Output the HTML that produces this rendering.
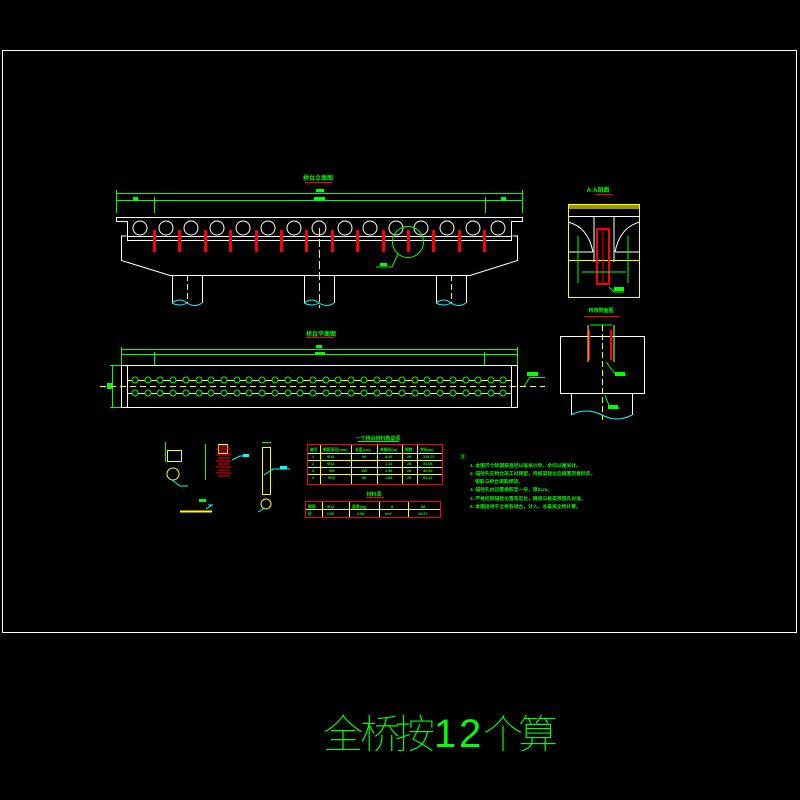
<!DOCTYPE html>
<html><head><meta charset="utf-8"><style>
html,body{margin:0;padding:0;background:#000;width:800px;height:800px;overflow:hidden}
svg{display:block}
text{font-family:"Liberation Sans","Noto Sans CJK SC",sans-serif}
</style></head><body>
<svg width="800" height="800" viewBox="0 0 800 800" xmlns="http://www.w3.org/2000/svg">
<rect x="0" y="0" width="800" height="800" fill="#000"/>
<rect x="2.5" y="50.5" width="794" height="582" fill="none" stroke="#fff" stroke-width="1"/>

<!-- ===== Elevation ===== -->
<text x="318" y="180" font-size="6" fill="#0f0" text-anchor="middle" font-weight="bold">桥台立面图</text>
<line x1="305" y1="182.5" x2="332" y2="182.5" stroke="#f00" stroke-width="1"/>
<g stroke="#0f0" stroke-width="1" fill="none">
<line x1="116" y1="193.5" x2="523" y2="193.5"/>
<line x1="116" y1="200.5" x2="523" y2="200.5"/>
<line x1="116.5" y1="190" x2="116.5" y2="213"/>
<line x1="522.5" y1="190" x2="522.5" y2="213"/>
<line x1="154.5" y1="197" x2="154.5" y2="213"/>
<line x1="485.5" y1="197" x2="485.5" y2="213"/>
</g>
<rect x="316" y="189" width="8" height="3" fill="#0f0"/>
<rect x="314" y="197" width="11" height="3" fill="#0f0"/>
<rect x="133" y="197" width="5" height="3" fill="#0f0"/>
<rect x="501" y="197" width="5" height="3" fill="#0f0"/>
<path d="M116.5,217.5 H522.5 V221.5 H511.5 V240.5 H127.5 V221.5 H116.5 Z" fill="none" stroke="#fff"/>
<g fill="none" stroke="#fff" stroke-width="1">
<circle cx="140" cy="228" r="7"/><circle cx="166" cy="228" r="7"/><circle cx="191" cy="228" r="7"/>
<circle cx="217" cy="228" r="7"/><circle cx="243" cy="228" r="7"/><circle cx="268" cy="228" r="7"/>
<circle cx="294" cy="228" r="7"/><circle cx="319" cy="228" r="7"/><circle cx="345" cy="228" r="7"/>
<circle cx="370" cy="228" r="7"/><circle cx="396" cy="228" r="7"/><circle cx="421" cy="228" r="7"/>
<circle cx="447" cy="228" r="7"/><circle cx="473" cy="228" r="7"/><circle cx="498" cy="228" r="7"/>
<line x1="127" y1="236.5" x2="511" y2="236.5"/>
<path d="M126.5,236 H121.5 V260.5 L170,275.5 H470 L517.5,260.5 V236 H512.5"/>
<path d="M172.5,275 V303 M202.5,275 V303 M304.5,275 V303 M334.5,275 V303 M436.5,275 V303 M466.5,275 V303"/>
</g>
<g fill="none" stroke="#0ff" stroke-width="1">
<path d="M172,303 q8,-6 15,0 q8,5 15,0 M172,303 q8,4 15,0"/>
<path d="M304,303 q8,-6 15,0 q8,5 15,0 M304,303 q8,4 15,0"/>
<path d="M436,303 q8,-6 15,0 q8,5 15,0 M436,303 q8,4 15,0"/>
</g>
<g fill="#f00">
<rect x="153" y="230" width="3" height="22"/><rect x="178" y="230" width="3" height="22"/>
<rect x="204" y="230" width="3" height="22"/><rect x="229" y="230" width="3" height="22"/>
<rect x="255" y="230" width="3" height="22"/><rect x="280" y="230" width="3" height="22"/>
<rect x="305" y="230" width="3" height="22"/><rect x="331" y="230" width="3" height="22"/>
<rect x="356" y="230" width="3" height="22"/><rect x="382" y="230" width="3" height="22"/>
<rect x="407" y="230" width="3" height="22"/><rect x="432" y="230" width="3" height="22"/>
<rect x="458" y="230" width="3" height="22"/><rect x="483" y="230" width="3" height="22"/>
</g>
<line x1="319.5" y1="228" x2="319.5" y2="308" stroke="#ff0" stroke-dasharray="8,3"/>
<line x1="187.5" y1="275" x2="187.5" y2="303" stroke="#ff0" stroke-dasharray="6,3"/>
<line x1="451.5" y1="275" x2="451.5" y2="303" stroke="#ff0" stroke-dasharray="6,3"/>
<circle cx="408" cy="242" r="15.5" fill="none" stroke="#0f0"/>
<path d="M398,254 L392,267 H376" fill="none" stroke="#0f0"/>
<rect x="380" y="263" width="7" height="3" fill="#0f0"/>

<!-- ===== Plan ===== -->
<text x="321" y="336" font-size="6" fill="#0f0" text-anchor="middle" font-weight="bold">桥台平面图</text>
<line x1="306" y1="337.5" x2="334" y2="337.5" stroke="#f00"/>
<g stroke="#0f0" fill="none">
<line x1="121" y1="349.5" x2="518" y2="349.5"/>
<line x1="121" y1="354.5" x2="518" y2="354.5"/>
<line x1="121.5" y1="347" x2="121.5" y2="365"/>
<line x1="517.5" y1="347" x2="517.5" y2="365"/>
<line x1="154.5" y1="352" x2="154.5" y2="365"/>
<line x1="484.5" y1="352" x2="484.5" y2="365"/>
<line x1="112.5" y1="365" x2="112.5" y2="407"/>
<line x1="110" y1="365.5" x2="121" y2="365.5"/>
<line x1="110" y1="407.5" x2="121" y2="407.5"/>
<line x1="524" y1="386.5" x2="530" y2="377"/>
<line x1="530" y1="377.5" x2="545" y2="377.5"/>
</g>
<rect x="316" y="345" width="6" height="3" fill="#0f0"/>
<rect x="315" y="352" width="10" height="3" fill="#0f0"/>
<rect x="107" y="383" width="5" height="6" fill="#0f0"/>
<rect x="527" y="372" width="11" height="4" fill="#0f0"/>
<rect x="121.5" y="365.5" width="396" height="42" fill="none" stroke="#fff"/>
<line x1="127.5" y1="365" x2="127.5" y2="407" stroke="#fff"/>
<line x1="511.5" y1="365" x2="511.5" y2="407" stroke="#fff"/>
<line x1="127" y1="380.5" x2="512" y2="380.5" stroke="#ff0"/>
<line x1="127" y1="393.5" x2="512" y2="393.5" stroke="#ff0"/>
<line x1="100" y1="386.5" x2="545" y2="386.5" stroke="#ff0" stroke-dasharray="6,4"/>
<g fill="#000" stroke="#0f0">
<circle cx="135" cy="380" r="3"/><circle cx="148" cy="380" r="3"/><circle cx="160" cy="380" r="3"/><circle cx="173" cy="380" r="3"/><circle cx="186" cy="380" r="3"/><circle cx="199" cy="380" r="3"/><circle cx="211" cy="380" r="3"/><circle cx="224" cy="380" r="3"/><circle cx="237" cy="380" r="3"/><circle cx="249" cy="380" r="3"/><circle cx="262" cy="380" r="3"/><circle cx="275" cy="380" r="3"/><circle cx="288" cy="380" r="3"/><circle cx="300" cy="380" r="3"/><circle cx="313" cy="380" r="3"/><circle cx="326" cy="380" r="3"/><circle cx="338" cy="380" r="3"/><circle cx="351" cy="380" r="3"/><circle cx="364" cy="380" r="3"/><circle cx="377" cy="380" r="3"/><circle cx="389" cy="380" r="3"/><circle cx="402" cy="380" r="3"/><circle cx="415" cy="380" r="3"/><circle cx="427" cy="380" r="3"/><circle cx="440" cy="380" r="3"/><circle cx="453" cy="380" r="3"/><circle cx="466" cy="380" r="3"/><circle cx="478" cy="380" r="3"/><circle cx="491" cy="380" r="3"/><circle cx="503" cy="380" r="3"/>
<circle cx="135" cy="393" r="3"/><circle cx="148" cy="393" r="3"/><circle cx="160" cy="393" r="3"/><circle cx="173" cy="393" r="3"/><circle cx="186" cy="393" r="3"/><circle cx="199" cy="393" r="3"/><circle cx="211" cy="393" r="3"/><circle cx="224" cy="393" r="3"/><circle cx="237" cy="393" r="3"/><circle cx="249" cy="393" r="3"/><circle cx="262" cy="393" r="3"/><circle cx="275" cy="393" r="3"/><circle cx="288" cy="393" r="3"/><circle cx="300" cy="393" r="3"/><circle cx="313" cy="393" r="3"/><circle cx="326" cy="393" r="3"/><circle cx="338" cy="393" r="3"/><circle cx="351" cy="393" r="3"/><circle cx="364" cy="393" r="3"/><circle cx="377" cy="393" r="3"/><circle cx="389" cy="393" r="3"/><circle cx="402" cy="393" r="3"/><circle cx="415" cy="393" r="3"/><circle cx="427" cy="393" r="3"/><circle cx="440" cy="393" r="3"/><circle cx="453" cy="393" r="3"/><circle cx="466" cy="393" r="3"/><circle cx="478" cy="393" r="3"/><circle cx="491" cy="393" r="3"/><circle cx="503" cy="393" r="3"/>
</g>

<!-- ===== Side section ===== -->
<text x="598" y="192" font-size="6" fill="#0f0" text-anchor="middle" font-weight="bold">A-A剖面</text>
<line x1="595" y1="194.5" x2="613" y2="194.5" stroke="#f00"/>
<rect x="568.5" y="204.5" width="71" height="93" fill="none" stroke="#ff0"/>
<rect x="569" y="205" width="70" height="4" fill="#ff0" opacity="0.6"/>
<line x1="568" y1="216.5" x2="640" y2="216.5" stroke="#fff"/>
<path d="M568,222 q20,5 25,30 M640,222 q-20,5 -25,30 M568,252 H593 M615,252 H640 M594,216 V262 M614,216 V262" fill="none" stroke="#fff"/>
<line x1="568" y1="260.5" x2="640" y2="260.5" stroke="#ff0"/>
<rect x="597" y="229" width="12" height="55" fill="none" stroke="#f00" stroke-width="2"/>
<line x1="603" y1="229" x2="603" y2="284" stroke="#f00"/>
<path d="M578,236 V283 M628,236 V283 M582,272 H626" fill="none" stroke="#0f0"/>
<path d="M609,287 L614,292 H624" fill="none" stroke="#0f0"/>
<rect x="614" y="287" width="10" height="4" fill="#0f0"/>
<text x="601" y="312" font-size="5" fill="#0f0" text-anchor="middle" font-weight="bold">桥墩侧面图</text>
<line x1="584" y1="316.5" x2="620" y2="316.5" stroke="#f00"/>
<path d="M590,325 H612" stroke="#0f0" fill="none"/>
<rect x="560.5" y="336.5" width="84" height="57" fill="none" stroke="#fff"/>
<line x1="602.5" y1="325" x2="602.5" y2="420" stroke="#ff0" stroke-dasharray="6,3"/>
<path d="M589,330 V360 M611,330 V360" stroke="#f00" stroke-width="2"/>
<path d="M588,325 V362 M614,325 V362" stroke="#ff0"/>
<path d="M571.5,394 V415 M632.5,394 V415" stroke="#fff"/>
<path d="M571,415 q15,-8 31,0 q15,8 30,0" stroke="#0ff" fill="none"/>
<path d="M606,362 L616,375 H626 M605,395 L610,408 H620" stroke="#0f0" fill="none"/>
<rect x="615" y="372" width="10" height="4" fill="#0f0"/>
<rect x="608" y="405" width="10" height="4" fill="#0f0"/>

<!-- ===== Small details ===== -->
<g stroke="#ff0" fill="none">
<rect x="167.5" y="450.5" width="14" height="11"/>
<rect x="218.5" y="444.5" width="9" height="9"/>
<rect x="262.5" y="447.5" width="8" height="47"/>
<line x1="180" y1="511.5" x2="212" y2="511.5" stroke-width="2"/>
<circle cx="173" cy="474" r="6"/><circle cx="266" cy="504" r="5"/>
</g>
<g stroke="#0f0" fill="none">
<line x1="205.5" y1="444" x2="205.5" y2="480"/>
<line x1="165.5" y1="442" x2="165.5" y2="462"/>
<line x1="262" y1="442.5" x2="271" y2="442.5"/>
</g>
<g stroke="#f00">
<path d="M218,446 H230 M216,449 H231 M218,452 H230 M216,455 H231 M218,458 H230 M216,461 H231 M218,464 H230 M216,467 H231 M218,470 H230 M216,473 H231 M218,476 H230"/>
</g>
<g stroke="#0ff" fill="none">
<path d="M232,460 L240,456 H247 M172,480 L180,486 H188 M264,475 L273,469 H290 M265,508 L258,512 M206,509 L212,505 H208"/>
</g>
<rect x="243" y="454" width="6" height="3" fill="#0ff"/>
<rect x="280" y="466" width="7" height="3" fill="#0ff"/>
<rect x="199" y="499" width="7" height="3" fill="#0f0"/>

<!-- ===== Tables ===== -->
<text x="378" y="440" font-size="5" fill="#0f0" text-anchor="middle" font-weight="bold">一个桥台材料数量表</text>
<line x1="358" y1="441.5" x2="399" y2="441.5" stroke="#0f0"/>
<g stroke="#ff0">
<line x1="307" y1="453.5" x2="443" y2="453.5"/><line x1="307" y1="460.5" x2="443" y2="460.5"/>
<line x1="307" y1="467.5" x2="443" y2="467.5"/><line x1="307" y1="474.5" x2="443" y2="474.5"/>
<line x1="320.5" y1="444" x2="320.5" y2="484"/><line x1="351.5" y1="444" x2="351.5" y2="484"/>
<line x1="377.5" y1="444" x2="377.5" y2="484"/><line x1="402.5" y1="444" x2="402.5" y2="484"/>
<line x1="417.5" y1="444" x2="417.5" y2="484"/>
<line x1="305" y1="509.5" x2="441" y2="509.5"/>
<line x1="322.5" y1="501" x2="322.5" y2="517"/><line x1="349.5" y1="501" x2="349.5" y2="517"/>
<line x1="379.5" y1="501" x2="379.5" y2="517"/><line x1="408.5" y1="501" x2="408.5" y2="517"/>
</g>
<rect x="307.5" y="444.5" width="135" height="40" fill="none" stroke="#f00"/>
<rect x="305.5" y="501.5" width="135" height="16" fill="none" stroke="#f00"/>
<g fill="#0f0" font-size="3.8" font-weight="bold">
<text x="310" y="451">编号</text><text x="323" y="451">钢筋直径(mm)</text><text x="355" y="451">长度(cm)</text><text x="380" y="451">单根长(m)</text><text x="405" y="451">根数</text><text x="420" y="451">共长(m)</text>
<text x="312" y="458">1</text><text x="327" y="458">Φ12</text><text x="362" y="458">90</text><text x="385" y="458">4.49</text><text x="407" y="458">28</text><text x="423" y="458">125.72</text>
<text x="312" y="465">2</text><text x="327" y="465">Φ12</text><text x="385" y="465">1.11</text><text x="407" y="465">28</text><text x="423" y="465">31.08</text>
<text x="312" y="472">3</text><text x="329" y="472">Φ8</text><text x="361" y="472">100</text><text x="385" y="472">1.45</text><text x="407" y="472">28</text><text x="423" y="472">40.60</text>
<text x="312" y="479">4</text><text x="328" y="479">Φ10</text><text x="362" y="479">90</text><text x="385" y="479">1.83</text><text x="407" y="479">28</text><text x="423" y="479">51.24</text>
<text x="308" y="508">钢筋</text><text x="327" y="508">Φ12</text><text x="352" y="508">重量(kg)</text><text x="391" y="508">8</text><text x="421" y="508">88</text>
<text x="308" y="515">砼</text><text x="327" y="515">C30</text><text x="357" y="515">2.58</text><text x="385" y="515">t/m³</text><text x="418" y="515">10.97</text>
</g>
<text x="374" y="496" font-size="5" fill="#0f0" text-anchor="middle" font-weight="bold">材料表</text>
<line x1="366" y1="497.5" x2="384" y2="497.5" stroke="#f00"/>

<!-- ===== Notes ===== -->
<g fill="#0f0" font-size="4.8" font-weight="bold">
<text x="460" y="458">注:</text>
<text x="470" y="467">1. 本图尺寸除钢筋直径以毫米计外，余均以厘米计。</text>
<text x="470" y="475">2. 锚栓孔在桥台施工时预留，待板梁就位后填塞沥青砂浆，</text>
<text x="475" y="483">钢筋与桥台钢筋焊接。</text>
<text x="470" y="491">3. 锚栓孔内设置橡胶垫一块，厚2cm。</text>
<text x="470" y="500">4. 严格控制锚栓位置及定位，确保与板梁预留孔对准。</text>
<text x="470" y="508">5. 本图适用于全桥各墩台，计入，总量按全桥计算。</text>
</g>

<!-- ===== Big label ===== -->
<g fill="#0f0" font-size="40" font-family="'Noto Sans CJK SC',sans-serif" font-weight="100">
<text x="323" y="748">全</text><text x="360" y="748">桥</text><text x="395" y="748">按</text>
<text x="434" y="747" font-family="'Liberation Sans',sans-serif" font-size="40">1</text>
<text x="459" y="747" font-family="'Liberation Sans',sans-serif" font-size="40">2</text>
<text x="483" y="748">个</text><text x="518" y="748">算</text>
</g>
</svg>
</body></html>
